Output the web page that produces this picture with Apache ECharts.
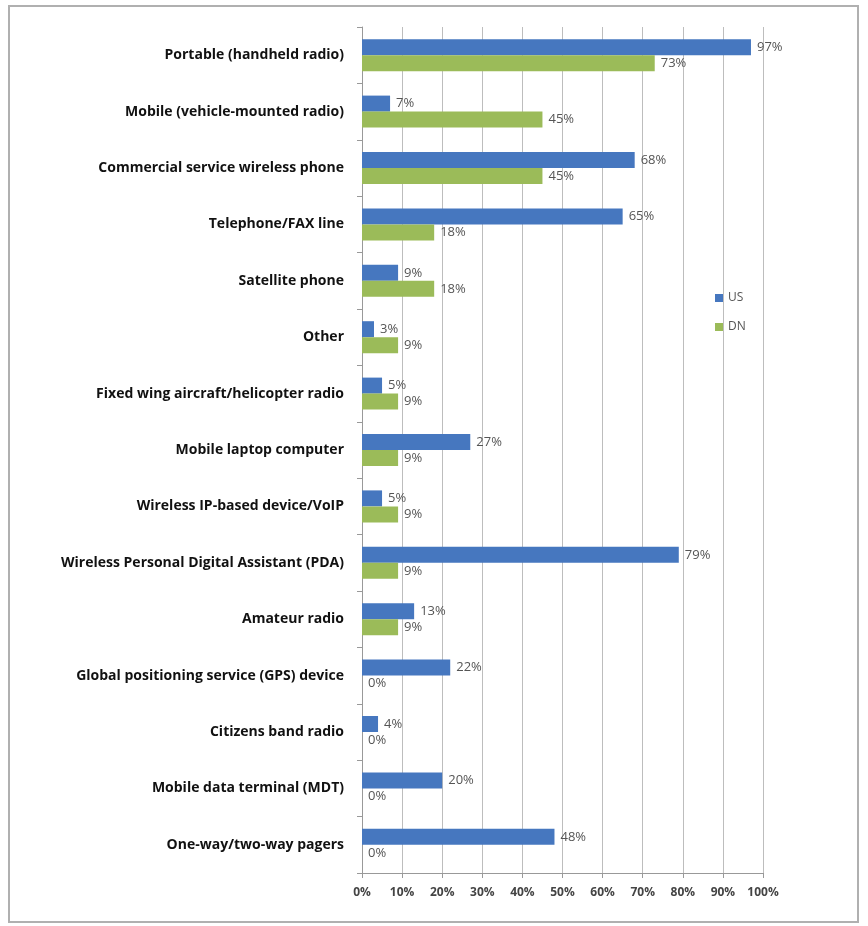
<!DOCTYPE html>
<html>
<head>
<meta charset="utf-8">
<script src="https://cdn.jsdelivr.net/npm/echarts@6/dist/echarts.min.js"></script>
<style>
  html, body { margin: 0; padding: 0; background: #fff; }
  #chart { width: 868px; height: 926px; }
</style>
</head>
<body>
<div id="chart"></div>
<script>
const categories = [
  "Portable (handheld radio)",
  "Mobile (vehicle-mounted radio)",
  "Commercial service wireless phone",
  "Telephone/FAX line",
  "Satellite phone",
  "Other",
  "Fixed wing aircraft/helicopter radio",
  "Mobile laptop computer",
  "Wireless IP-based device/VoIP",
  "Wireless Personal Digital Assistant (PDA)",
  "Amateur radio",
  "Global positioning service (GPS) device",
  "Citizens band radio",
  "Mobile data terminal (MDT)",
  "One-way/two-way pagers"
];
const usValues = [97, 7, 68, 65, 9, 3, 5, 27, 5, 79, 13, 22, 4, 20, 48];
const dnValues = [73, 45, 45, 18, 18, 9, 9, 9, 9, 9, 9, 0, 0, 0, 0];

const chart = echarts.init(document.getElementById("chart"));

const labelStyle = {
  show: true,
  position: "right",
  distance: 6,
  formatter: "{c}%",
  color: "#555",
  fontFamily: "Open Sans",
  fontSize: 13
};

chart.setOption({
  animation: false,
  graphic: [{
    type: "rect",
    shape: { x: 9, y: 6, width: 849, height: 916 },
    style: { fill: "none", stroke: "#b0b0b0", lineWidth: 2 }
  }],
  grid: { left: 362, right: 105, top: 27, bottom: 53 },
  legend: {
    orient: "vertical",
    left: 710,
    top: 287,
    itemWidth: 8,
    itemHeight: 8,
    itemGap: 17,
    icon: "rect",
    textStyle: { color: "#555", fontFamily: "Open Sans", fontSize: 12 },
    data: ["US", "DN"]
  },
  xAxis: {
    type: "value",
    min: 0,
    max: 100,
    interval: 10,
    axisLine: { show: true, lineStyle: { color: "#999" } },
    axisTick: { show: true, length: 5, lineStyle: { color: "#999" } },
    splitLine: { show: true, lineStyle: { color: "#bdbdbd" } },
    axisLabel: {
      formatter: "{value}%",
      color: "#444",
      fontFamily: "Open Sans",
      fontWeight: "bold",
      fontSize: 12,
      margin: 14
    }
  },
  yAxis: {
    type: "category",
    inverse: true,
    data: categories,
    axisLine: { show: true, lineStyle: { color: "#999" } },
    axisTick: { show: true, length: 5, lineStyle: { color: "#999" } },
    axisLabel: {
      color: "#111",
      fontFamily: "Open Sans",
      fontWeight: "bold",
      fontSize: 14,
      margin: 18
    }
  },
  series: [
    {
      name: "US",
      type: "bar",
      data: usValues,
      barWidth: 16,
      barGap: "0%",
      itemStyle: { color: "#4677bf" },
      label: labelStyle
    },
    {
      name: "DN",
      type: "bar",
      data: dnValues,
      barWidth: 16,
      barGap: "0%",
      itemStyle: { color: "#9bbb59" },
      label: labelStyle
    }
  ]
});
</script>
</body>
</html>
